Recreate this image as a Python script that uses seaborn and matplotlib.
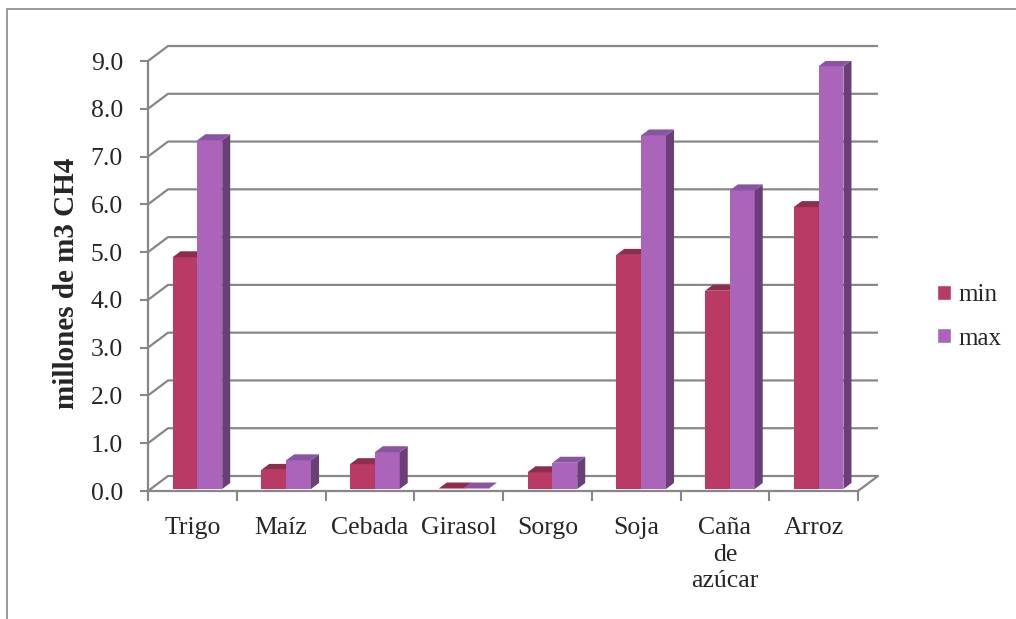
import numpy as np
import pandas as pd
import matplotlib.pyplot as plt
import seaborn as sns
from matplotlib.patches import Polygon, Rectangle

# datos
cultivos = ["Trigo", "Maíz", "Cebada", "Girasol", "Sorgo", "Soja", "Caña\nde\nazúcar", "Arroz"]
val_min = [4.85, 0.40, 0.52, 0.01, 0.35, 4.90, 4.15, 5.90]
val_max = [7.30, 0.60, 0.77, 0.01, 0.55, 7.40, 6.25, 8.85]
series = ["min", "max"]
yticks = [0, 1, 2, 3, 4, 5, 6, 7, 8, 9]

df = pd.DataFrame({
    "cultivo": cultivos * 2,
    "valor": val_min + val_max,
    "serie": ["min"] * len(cultivos) + ["max"] * len(cultivos),
})

sns.set_style("white")
plt.rcParams['font.family'] = ['Liberation Serif', 'DejaVu Serif']

front = {"min": "#B93A64", "max": "#AA64BA"}
side = {"min": "#8A2A4A", "max": "#6A3E77"}
top = {"min": "#8E2D50", "max": "#8A55A0"}
grey = "#878787"

W, H, DPI = 1016, 619, 100
fig = plt.figure(figsize=(W / DPI, H / DPI), dpi=DPI)
ax = fig.add_axes([148 / W, 1 - 491 / H, 710 / W, 430 / H])

sns.barplot(data=df, x="cultivo", y="valor", hue="serie", hue_order=series,
            palette=[front[s] for s in series], width=0.56, dodge=True,
            saturation=1, legend=False, ax=ax)
ax.set_xlim(-0.5, len(cultivos) - 0.5)
ax.set_ylim(0, 9)

# pixel -> data units
px_x = len(cultivos) / 710
px_y = 9 / 430

# 3d look for bars
bdx, bdy = 8 * px_x, 6 * px_y
shift_x, shift_y = 5 * px_x, 2 * px_y
for k, cont in enumerate(ax.containers):
    s = series[k]
    for p in cont:
        p.set_x(p.get_x() + shift_x)
        p.set_y(p.get_y() + shift_y)
        p.set_zorder(2 + k)
        p.set_edgecolor("none")
        x, y, w, h = p.get_x(), p.get_y(), p.get_width(), p.get_height()
        sd = Polygon([(x + w, y), (x + w + bdx, y + bdy), (x + w + bdx, y + h + bdy), (x + w, y + h)],
                     closed=True, facecolor=side[s], edgecolor="none", zorder=2.1 + k)
        tp = Polygon([(x, y + h), (x + bdx, y + h + bdy), (x + w + bdx, y + h + bdy), (x + w, y + h)],
                     closed=True, facecolor=top[s], edgecolor="none", zorder=2.1 + k)
        ax.add_patch(sd)
        ax.add_patch(tp)

# back wall gridlines with diagonals
gdx, gdy = 20 * px_x, 15 * px_y
x0, x1 = -0.5, len(cultivos) - 0.5
for v in yticks:
    ax.plot([x0, x0 + gdx, x1 + gdx], [v, v + gdy, v + gdy], color=grey, lw=1.6,
            zorder=0.5, clip_on=False, solid_capstyle="butt")
ax.plot([x1, x1 + gdx], [0, gdy], color=grey, lw=1.6, zorder=0.5, clip_on=False)

for sp in ["top", "right"]:
    ax.spines[sp].set_visible(False)
for sp in ["left", "bottom"]:
    ax.spines[sp].set_color(grey)
    ax.spines[sp].set_linewidth(1.6)

ax.set_yticks(yticks)
ax.set_yticklabels([f"{v:.1f}" for v in yticks])
ax.tick_params(axis="y", direction="out", length=6, width=1.5, color=grey,
               labelsize=18.5, pad=12, left=True)
ax.set_xticks(np.arange(-0.5, len(cultivos), 1))
ax.set_xticklabels([""] * (len(cultivos) + 1))
ax.set_xticks(range(len(cultivos)), minor=True)
ax.set_xticklabels(cultivos, minor=True, va="top", ha="center", linespacing=1.25)
ax.tick_params(axis="x", which="major", direction="out", length=7, width=1.5,
               color=grey, bottom=True)
ax.tick_params(axis="x", which="minor", length=0, labelsize=18.5, pad=19)
ax.set_xlabel("")
ax.set_ylabel("")

fig.text(67 / W, 1 - 283 / H, "millones de m3 CH4", rotation=90, fontsize=21,
         fontweight="bold", ha="center", va="center")

handles = [Rectangle((0, 0), 1, 1, facecolor=front[s]) for s in series]
fig.legend(handles, series, loc="center left", bbox_to_anchor=(937 / W, 1 - 317 / H),
           frameon=False, fontsize=18, handlelength=0.56, handleheight=0.56,
           handletextpad=0.3, labelspacing=0.85, borderpad=0, borderaxespad=0)

fig.add_artist(Rectangle((7 / W, -0.1), 1.2, 1 - 9 / H + 0.1, fill=False,
                         edgecolor=grey, lw=1.2, transform=fig.transFigure))

fig.savefig("out.png", dpi=DPI)
